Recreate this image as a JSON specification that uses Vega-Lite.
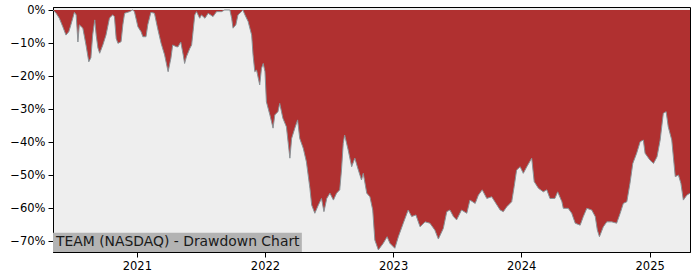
{
  "$schema": "https://vega.github.io/schema/vega-lite/v6.json",
  "autosize": "none",
  "width": 637,
  "height": 245,
  "padding": {"left": 53, "top": 7, "right": 10, "bottom": 28},
  "background": "white",
  "config": {
    "view": {"fill": "#eeeeee", "stroke": "black", "strokeWidth": 1},
    "axis": {
      "domainColor": "black", "domainWidth": 1, "tickColor": "black", "tickSize": 5, "tickWidth": 1,
      "labelColor": "black", "labelFont": "DejaVu Sans", "labelFontSize": 11.5, "grid": false, "title": null, "labelPadding": 3,
      "labelOverlap": false, "labelFlush": false
    }
  },
  "data": {"values": [
    {"date":"2020-05-07","dd":0},{"date":"2020-05-16","dd":-1.0},{"date":"2020-05-25","dd":-2.5},{"date":"2020-06-04","dd":-5.1},
    {"date":"2020-06-13","dd":-7.6},{"date":"2020-06-21","dd":-6.6},{"date":"2020-06-27","dd":-4.5},{"date":"2020-07-07","dd":-0.7},
    {"date":"2020-07-12","dd":-1.5},{"date":"2020-07-17","dd":-9.7},{"date":"2020-07-21","dd":-4.5},{"date":"2020-07-31","dd":-5.5},
    {"date":"2020-08-09","dd":-10.6},{"date":"2020-08-17","dd":-15.7},{"date":"2020-08-23","dd":-14.5},{"date":"2020-08-28","dd":-7.6},
    {"date":"2020-09-03","dd":-3.0},{"date":"2020-09-07","dd":-7.6},{"date":"2020-09-12","dd":-11.5},{"date":"2020-09-17","dd":-13.1},
    {"date":"2020-09-26","dd":-10.6},{"date":"2020-10-05","dd":-7.6},{"date":"2020-10-15","dd":-2.4},{"date":"2020-10-24","dd":-1.5},
    {"date":"2020-10-29","dd":-2.0},{"date":"2020-11-03","dd":-8.6},{"date":"2020-11-08","dd":-10.1},{"date":"2020-11-17","dd":-9.6},
    {"date":"2020-11-22","dd":-4.5},{"date":"2020-11-27","dd":-1.0},{"date":"2020-12-11","dd":-0.5},{"date":"2020-12-20","dd":0},
    {"date":"2020-12-25","dd":-0.5},{"date":"2021-01-04","dd":-5.1},{"date":"2021-01-13","dd":-6.6},{"date":"2021-01-18","dd":-8.1},
    {"date":"2021-01-27","dd":-8.1},{"date":"2021-02-01","dd":-4.5},{"date":"2021-02-10","dd":-0.7},{"date":"2021-02-20","dd":-1.0},
    {"date":"2021-03-01","dd":-5.5},{"date":"2021-03-11","dd":-10.1},{"date":"2021-03-21","dd":-13.6},{"date":"2021-03-31","dd":-18.7},
    {"date":"2021-04-08","dd":-14.6},{"date":"2021-04-13","dd":-10.6},{"date":"2021-04-23","dd":-11.1},{"date":"2021-04-28","dd":-11.2},
    {"date":"2021-05-06","dd":-9.7},{"date":"2021-05-13","dd":-13.6},{"date":"2021-05-17","dd":-16.2},{"date":"2021-05-22","dd":-14.2},
    {"date":"2021-06-01","dd":-11.6},{"date":"2021-06-06","dd":-10.6},{"date":"2021-06-10","dd":-6.6},{"date":"2021-06-15","dd":-1.5},
    {"date":"2021-06-20","dd":-0.5},{"date":"2021-06-29","dd":-2.5},{"date":"2021-07-04","dd":-1.5},{"date":"2021-07-14","dd":-2.5},
    {"date":"2021-07-23","dd":-1.0},{"date":"2021-08-06","dd":-2.0},{"date":"2021-08-16","dd":-0.5},{"date":"2021-08-30","dd":-0.5},
    {"date":"2021-09-08","dd":0},{"date":"2021-09-23","dd":0},{"date":"2021-09-28","dd":-2.5},{"date":"2021-10-02","dd":-5.5},
    {"date":"2021-10-10","dd":-4.5},{"date":"2021-10-16","dd":-1.5},{"date":"2021-10-26","dd":-0.5},{"date":"2021-10-30","dd":0},
    {"date":"2021-11-05","dd":-1.5},{"date":"2021-11-14","dd":-3.5},{"date":"2021-11-24","dd":-7.6},{"date":"2021-11-28","dd":-13.6},
    {"date":"2021-12-03","dd":-18.7},{"date":"2021-12-08","dd":-18.2},{"date":"2021-12-17","dd":-22.7},{"date":"2021-12-22","dd":-17.7},
    {"date":"2021-12-27","dd":-16.2},{"date":"2022-01-01","dd":-18.7},{"date":"2022-01-05","dd":-27.8},{"date":"2022-01-15","dd":-31.8},
    {"date":"2022-01-24","dd":-35.8},{"date":"2022-01-29","dd":-31.8},{"date":"2022-02-07","dd":-30.8},{"date":"2022-02-12","dd":-28.3},
    {"date":"2022-02-21","dd":-32.8},{"date":"2022-03-03","dd":-35.4},{"date":"2022-03-13","dd":-44.9},{"date":"2022-03-18","dd":-38.9},
    {"date":"2022-03-27","dd":-35.8},{"date":"2022-04-04","dd":-33.3},{"date":"2022-04-10","dd":-38.9},{"date":"2022-04-20","dd":-41.9},
    {"date":"2022-04-29","dd":-46.0},{"date":"2022-05-09","dd":-54.0},{"date":"2022-05-14","dd":-59.1},{"date":"2022-05-23","dd":-61.6},
    {"date":"2022-06-02","dd":-59.1},{"date":"2022-06-11","dd":-57.1},{"date":"2022-06-18","dd":-61.1},{"date":"2022-06-26","dd":-57.1},
    {"date":"2022-07-05","dd":-55.5},{"date":"2022-07-15","dd":-57.6},{"date":"2022-07-24","dd":-55.5},{"date":"2022-08-02","dd":-54.5},
    {"date":"2022-08-07","dd":-48.5},{"date":"2022-08-12","dd":-40.4},{"date":"2022-08-16","dd":-37.9},{"date":"2022-08-26","dd":-42.4},
    {"date":"2022-09-05","dd":-47.5},{"date":"2022-09-14","dd":-44.9},{"date":"2022-09-24","dd":-48.5},{"date":"2022-10-03","dd":-51.5},
    {"date":"2022-10-08","dd":-49.5},{"date":"2022-10-18","dd":-55.5},{"date":"2022-10-27","dd":-56.6},{"date":"2022-11-04","dd":-60.6},
    {"date":"2022-11-10","dd":-69.7},{"date":"2022-11-20","dd":-72.7},{"date":"2022-12-04","dd":-70.7},{"date":"2022-12-15","dd":-68.7},
    {"date":"2022-12-23","dd":-70.7},{"date":"2023-01-06","dd":-72.2},{"date":"2023-01-16","dd":-68.7},{"date":"2023-01-30","dd":-64.6},
    {"date":"2023-02-13","dd":-60.6},{"date":"2023-02-23","dd":-62.6},{"date":"2023-03-07","dd":-62.1},{"date":"2023-03-19","dd":-65.7},
    {"date":"2023-04-02","dd":-64.2},{"date":"2023-04-16","dd":-64.6},{"date":"2023-04-30","dd":-66.7},{"date":"2023-05-10","dd":-69.4},
    {"date":"2023-05-24","dd":-66.2},{"date":"2023-06-03","dd":-61.1},{"date":"2023-06-12","dd":-60.6},{"date":"2023-06-22","dd":-62.6},
    {"date":"2023-07-01","dd":-63.6},{"date":"2023-07-15","dd":-60.6},{"date":"2023-07-30","dd":-61.6},{"date":"2023-08-08","dd":-57.6},
    {"date":"2023-08-23","dd":-58.6},{"date":"2023-09-01","dd":-56.1},{"date":"2023-09-12","dd":-54.5},{"date":"2023-09-25","dd":-57.1},
    {"date":"2023-10-09","dd":-56.6},{"date":"2023-10-18","dd":-58.1},{"date":"2023-11-02","dd":-60.6},{"date":"2023-11-11","dd":-61.1},
    {"date":"2023-11-21","dd":-59.6},{"date":"2023-12-05","dd":-58.1},{"date":"2023-12-12","dd":-53.5},{"date":"2023-12-19","dd":-48.5},
    {"date":"2023-12-29","dd":-47.5},{"date":"2024-01-07","dd":-49.5},{"date":"2024-01-17","dd":-47.5},{"date":"2024-01-31","dd":-44.9},
    {"date":"2024-02-07","dd":-52.0},{"date":"2024-02-19","dd":-54.0},{"date":"2024-03-04","dd":-55.1},{"date":"2024-03-14","dd":-54.5},
    {"date":"2024-03-23","dd":-57.1},{"date":"2024-04-06","dd":-57.1},{"date":"2024-04-14","dd":-55.1},{"date":"2024-04-26","dd":-58.1},
    {"date":"2024-04-30","dd":-60.1},{"date":"2024-05-14","dd":-60.1},{"date":"2024-05-24","dd":-61.6},{"date":"2024-06-03","dd":-64.6},
    {"date":"2024-06-17","dd":-65.2},{"date":"2024-06-26","dd":-62.6},{"date":"2024-07-06","dd":-60.1},{"date":"2024-07-20","dd":-60.6},
    {"date":"2024-07-30","dd":-62.6},{"date":"2024-08-05","dd":-66.7},{"date":"2024-08-11","dd":-68.7},{"date":"2024-08-22","dd":-65.7},
    {"date":"2024-09-01","dd":-64.2},{"date":"2024-09-15","dd":-64.2},{"date":"2024-09-29","dd":-64.6},{"date":"2024-10-09","dd":-61.6},
    {"date":"2024-10-18","dd":-58.6},{"date":"2024-10-28","dd":-58.1},{"date":"2024-11-06","dd":-52.5},{"date":"2024-11-14","dd":-46.5},
    {"date":"2024-11-25","dd":-43.4},{"date":"2024-12-05","dd":-39.9},{"date":"2024-12-14","dd":-39.4},{"date":"2024-12-19","dd":-43.4},
    {"date":"2025-01-02","dd":-45.5},{"date":"2025-01-12","dd":-46.5},{"date":"2025-01-22","dd":-44.5},{"date":"2025-01-31","dd":-39.4},
    {"date":"2025-02-09","dd":-31.3},{"date":"2025-02-17","dd":-30.8},{"date":"2025-02-23","dd":-35.4},{"date":"2025-03-05","dd":-39.4},
    {"date":"2025-03-15","dd":-50.5},{"date":"2025-03-24","dd":-50.0},{"date":"2025-03-31","dd":-52.5},{"date":"2025-04-07","dd":-57.6},
    {"date":"2025-04-17","dd":-56.1},{"date":"2025-04-26","dd":-55.5}
  ]},
  "layer": [
    {
      "mark": {"type": "area", "color": "#b03030", "clip": true},
      "encoding": {
        "x": {"field": "date", "type": "temporal",
          "scale": {"type": "utc", "domain": [{"year":2020,"month":5,"date":7,"utc":true},{"year":2025,"month":4,"date":26,"utc":true}], "nice": false},
          "axis": {"format": "%Y", "tickCount": 12, "values": [{"year":2021,"month":1,"date":1,"utc":true},{"year":2022,"month":1,"date":1,"utc":true},{"year":2023,"month":1,"date":1,"utc":true},{"year":2024,"month":1,"date":1,"utc":true},{"year":2025,"month":1,"date":1,"utc":true}]}},
        "y": {"field": "dd", "type": "quantitative",
          "scale": {"domain": [-73.33, 0.91], "nice": false, "zero": false},
          "axis": {"values": [-70,-60,-50,-40,-30,-20,-10,0], "tickCount": 12, "labelExpr": "datum.value == 0 ? '0%' : '\u2212' + abs(datum.value) + '%'"}},
        "y2": {"datum": 0}
      }
    },
    {
      "mark": {"type": "line", "color": "#8a9296", "strokeWidth": 1, "clip": true},
      "encoding": {
        "x": {"field": "date", "type": "temporal"},
        "y": {"field": "dd", "type": "quantitative"}
      }
    },
    {
      "data": {"values": [{"label": "TEAM (NASDAQ) - Drawdown Chart"}]},
      "mark": {"type": "rect", "color": "#b3b3b3", "clip": true},
      "encoding": {
        "x": {"datum": {"year":2020,"month":5,"date":7,"utc":true}, "type": "temporal"},
        "x2": {"datum": {"year":2022,"month":4,"date":16,"utc":true}},
        "y": {"datum": -73.33, "type": "quantitative"},
        "y2": {"datum": -67.5}
      }
    },
    {
      "data": {"values": [{"label": "TEAM (NASDAQ) - Drawdown Chart"}]},
      "mark": {"type": "text", "align": "left", "baseline": "middle", "dx": 3, "font": "DejaVu Sans", "fontSize": 13.9, "color": "#1a1a1a"},
      "encoding": {
        "x": {"datum": {"year":2020,"month":5,"date":7,"utc":true}, "type": "temporal"},
        "y": {"datum": -70.3, "type": "quantitative"},
        "text": {"field": "label"}
      }
    }
  ]
}
